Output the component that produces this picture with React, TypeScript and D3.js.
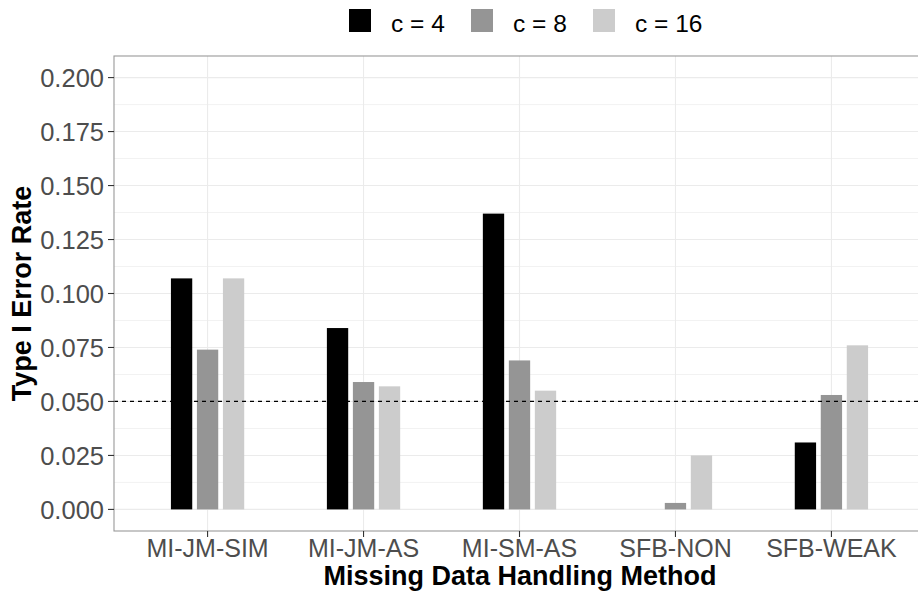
import React from 'react';
import * as d3 from 'd3';

const methods = ['MI-JM-SIM', 'MI-JM-AS', 'MI-SM-AS', 'SFB-NON', 'SFB-WEAK'];
const groups = ['c = 4', 'c = 8', 'c = 16'];
const c4 = [0.107, 0.084, 0.137, 0, 0.031];
const c8 = [0.074, 0.059, 0.069, 0.003, 0.053];
const c16 = [0.107, 0.057, 0.055, 0.025, 0.076];
const yTicks = [0, 0.025, 0.05, 0.075, 0.1, 0.125, 0.15, 0.175, 0.2];
const yMinor = [0.0125, 0.0375, 0.0625, 0.0875, 0.1125, 0.1375, 0.1625, 0.1875];
const refLine = 0.05;
const fills = ['#000000', '#959595', '#CCCCCC'];

const W = 918;
const H = 591;
const panel = { left: 114, right: 925, top: 56, bottom: 531 };
const font = '"Liberation Sans", Arial, sans-serif';

export default function App() {
  const series = [c4, c8, c16];

  const x = d3.scalePoint<string>()
    .domain(methods)
    .range([panel.left, panel.right])
    .padding(0.6);
  const step = x.step();

  const sub = d3.scaleBand<string>()
    .domain(groups)
    .range([-step * 0.25, step * 0.25])
    .paddingInner(0.18)
    .paddingOuter(0.09);

  const y = d3.scaleLinear().domain([-0.01, 0.21]).range([panel.bottom, panel.top]);
  const fmt = d3.format('.3f');

  const legendX = [349, 471, 593];

  return (
    <svg width={W} height={H} style={{ position: 'absolute', left: 0, top: 0, background: '#fff' }}>
      <rect x={0} y={0} width={W} height={H} fill="#fff" />
      {/* grid */}
      {yMinor.map(t => (
        <line key={'m' + t} x1={panel.left} x2={panel.right} y1={y(t)} y2={y(t)} stroke="#F2F2F2" strokeWidth={1} />
      ))}
      {yTicks.map(t => (
        <line key={'g' + t} x1={panel.left} x2={panel.right} y1={y(t)} y2={y(t)} stroke="#EBEBEB" strokeWidth={1.1} />
      ))}
      {methods.map(m => (
        <line key={'v' + m} x1={x(m)} x2={x(m)} y1={panel.top} y2={panel.bottom} stroke="#EBEBEB" strokeWidth={1.1} />
      ))}

      {/* bars */}
      {methods.map((m, i) => (
        <g key={m} transform={`translate(${x(m)},0)`}>
          {groups.map((g, j) => {
            const v = series[j][i];
            if (!v) return null;
            return (
              <rect key={g} x={sub(g)} y={y(v)} width={sub.bandwidth()} height={y(0) - y(v)} fill={fills[j]} />
            );
          })}
        </g>
      ))}

      {/* reference line */}
      <line x1={panel.left} x2={panel.right} y1={y(refLine)} y2={y(refLine)} stroke="#000" strokeWidth={1.3} strokeDasharray="4,4" />

      {/* panel border */}
      <rect x={panel.left} y={panel.top} width={panel.right - panel.left} height={panel.bottom - panel.top}
        fill="none" stroke="#999999" strokeWidth={1.1} />

      {/* y axis */}
      {yTicks.map(t => (
        <g key={'yt' + t}>
          <line x1={panel.left - 6} x2={panel.left} y1={y(t)} y2={y(t)} stroke="#333" strokeWidth={1.1} />
          <text x={panel.left - 10} y={y(t)} dy="0.36em" textAnchor="end" fontFamily={font} fontSize={25.5} fill="#4D4D4D">
            {fmt(t)}
          </text>
        </g>
      ))}

      {/* x axis */}
      {methods.map(m => (
        <g key={'xt' + m}>
          <line x1={x(m)} x2={x(m)} y1={panel.bottom} y2={panel.bottom + 6} stroke="#333" strokeWidth={1.1} />
          <text x={x(m)} y={557} textAnchor="middle" fontFamily={font} fontSize={25} fill="#4D4D4D">{m}</text>
        </g>
      ))}

      <text x={520} y={585} textAnchor="middle" fontFamily={font} fontSize={27} fontWeight="bold" fill="#000">
        Missing Data Handling Method
      </text>
      <text transform={`translate(31,${(panel.top + panel.bottom) / 2}) rotate(-90)`} textAnchor="middle"
        fontFamily={font} fontSize={27} fontWeight="bold" fill="#000">
        Type I Error Rate
      </text>

      {/* legend */}
      {groups.map((g, j) => (
        <g key={'lg' + g}>
          <rect x={legendX[j]} y={9} width={22} height={23} fill={fills[j]} />
          <text x={legendX[j] + 42} y={32} fontFamily={font} fontSize={24.5} fill="#000">{g}</text>
        </g>
      ))}
    </svg>
  );
}
